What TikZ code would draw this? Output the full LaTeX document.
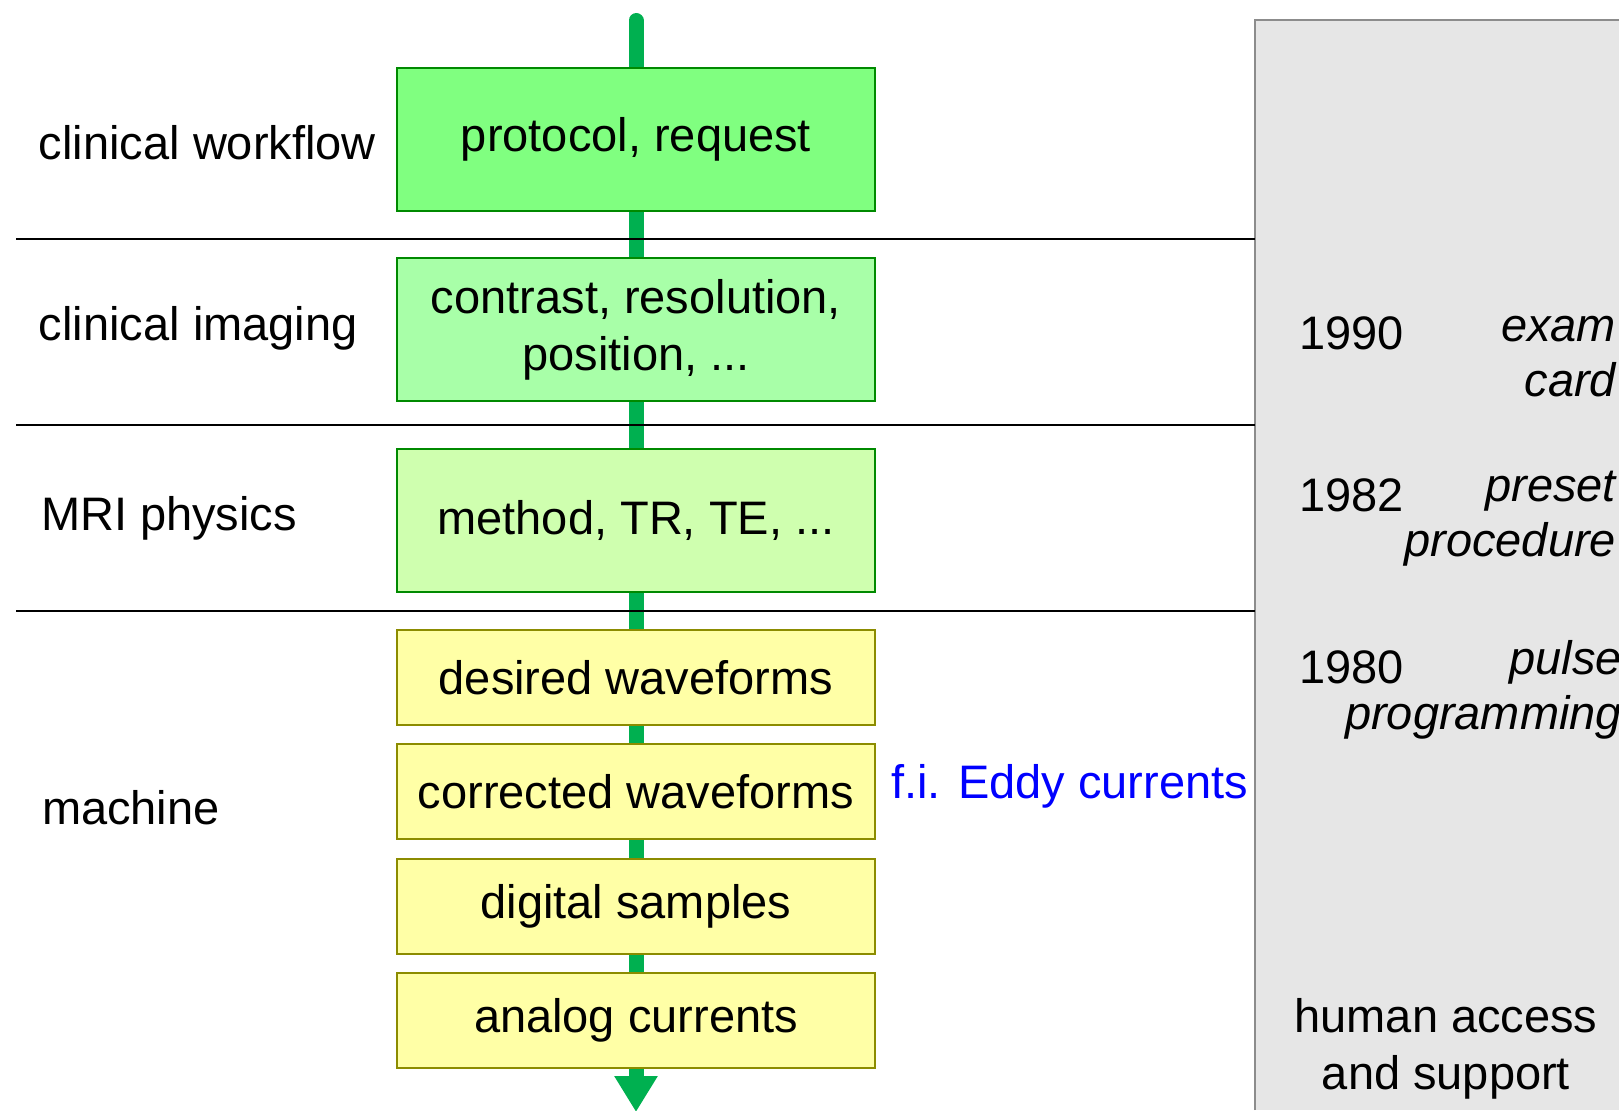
\documentclass[tikz,border=0pt]{standalone}
\usepackage{fontspec}
\setmainfont{Liberation Sans}
\usetikzlibrary{arrows.meta}
\pgfdeclarelayer{bg}
\pgfsetlayers{bg,main}
\definecolor{flowgreen}{HTML}{00B050}
\definecolor{gone}{HTML}{80FF80}
\definecolor{gtwo}{HTML}{A8FFA8}
\definecolor{gthree}{HTML}{CFFFAF}
\definecolor{ylw}{HTML}{FFFFA6}
\definecolor{gborder}{HTML}{008A00}
\definecolor{yborder}{HTML}{8C8C00}
\definecolor{panel}{HTML}{E6E6E6}
\definecolor{panelborder}{HTML}{8C8C8C}
\definecolor{note}{HTML}{0000FF}
\tikzset{
  txt/.style={inner sep=0pt, outer sep=0pt, font=\fontsize{23.5}{28.5}\selectfont},
  box/.style={txt, draw=gborder, line width=1pt, minimum width=239pt, minimum height=71.5pt, align=center},
  ybox/.style={box, draw=yborder, fill=ylw, minimum height=47.5pt},
  flow/.style={draw=flowgreen, line width=7.5pt},
  sep/.style={draw=black, line width=1pt},
  lbl/.style={txt, anchor=west},
  ital/.style={txt, font=\fontsize{23.5}{27.5}\selectfont\itshape, align=right, anchor=east},
}
\begin{document}
\begin{tikzpicture}[x=0.5pt,y=-0.5pt]
\useasboundingbox (0,0) rectangle (1619,1110);
% grey panel
\fill[panel] (1255,20) rectangle (1619,1110);
\draw[panelborder, line width=1pt] (1255,1110) -- (1255,20) -- (1619,20);
% separators
\coordinate (s1a) at (16,239);   \coordinate (s1b) at (1255,239);
\coordinate (s2a) at (16,424.5); \coordinate (s2b) at (1255,424.5);
\coordinate (s3a) at (16,610.5); \coordinate (s3b) at (1255,610.5);
\draw[sep] (s1a) -- (s1b);
\draw[sep] (s2a) -- (s2b);
\draw[sep] (s3a) -- (s3b);
% boxes
\node[box, fill=gone]   (b1) at (636,139.5) {\raisebox{-1.5pt}{protocol, request}};
\node[box, fill=gtwo]   (b2) at (636,329.5) {\raisebox{-1.5pt}{contrast, resolution,}\\\raisebox{-1.5pt}{position, ...}};
\node[box, fill=gthree] (b3) at (636,520.5) {method, TR, TE, ...};
\node[ybox] (b4) at (636,677.5)  {desired waveforms};
\node[ybox] (b5) at (636,791.5)  {corrected waveforms};
\node[ybox] (b6) at (636,906.5)  {digital samples};
\node[ybox] (b7) at (636,1020.5) {analog currents};
% flow arrow
\coordinate (top) at (636,20.5);
\coordinate (bottom) at (636,1112);
\begin{pgfonlayer}{bg}
\draw[flow, line cap=round] (top) -- (b1);
\draw[flow] (b1) -- (b2);
\draw[flow] (b2) -- (b3);
\draw[flow] (b3) -- (b4);
\draw[flow] (b4) -- (b5);
\draw[flow] (b5) -- (b6);
\draw[flow] (b6) -- (b7);
\draw[flow, -{Triangle[width=20.5pt,length=18pt]}] (b7) -- (bottom);
\end{pgfonlayer}
% left labels
\node[lbl] (cw) at (39,143) {clinical workflow};
\node[lbl] (ci) at (39,328) {clinical imaging};
\node[lbl] (mp) at (41,518) {MRI physics};
\node[lbl] (ma) at (42,808) {machine};
% note
\node[lbl, text=note] (ed) at (891,786) {f.i. Eddy currents};
% right panel texts
\node[lbl] (y90) at (1299,333) {1990};
\node[ital] (t90) at (1616,357) {exam\\card};
\node[lbl] (y82) at (1299,495) {1982};
\node[ital] (t82) at (1616,519) {preset\\procedure};
\node[lbl] (y80) at (1299,667) {1980};
\node[ital] (t80) at (1622,690) {pulse\\programming};
\node[txt, align=center] (ha) at (1446,1048.5) {human access\\and support};
\end{tikzpicture}
\end{document}
